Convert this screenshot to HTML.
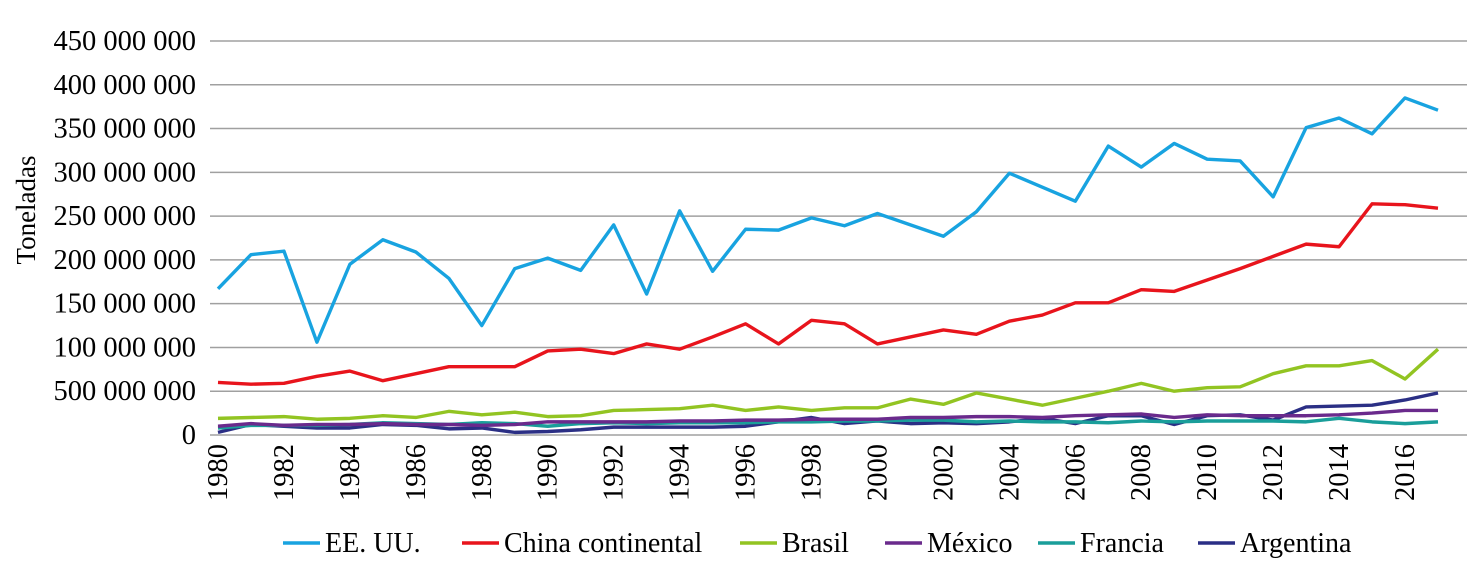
<!DOCTYPE html>
<html><head><meta charset="utf-8"><style>
body{margin:0;background:#fff}
svg text{font-family:"Liberation Serif",serif;fill:#000}
</style></head><body>
<svg id="c" width="1475" height="577"></svg>
<script>
const years=[];for(let y=1980;y<=2017;y++)years.push(y);
const yTickValues=[0,50,100,150,200,250,300,350,400,450];
const yTickLabels=["0","500 000 000","100 000 000","150 000 000","200 000 000","250 000 000","300 000 000","350 000 000","400 000 000","450 000 000"];
const usa=[167,206,210,106,195,223,209,179,125,190,202,188,240,161,256,187,235,234,248,239,253,240,227,255,299,283,267,330,306,333,315,313,272,351,362,344,385,371];
const china=[60,58,59,67,73,62,70,78,78,78,96,98,93,104,98,112,127,104,131,127,104,112,120,115,130,137,151,151,166,164,177,190,204,218,215,264,263,259];
const brasil=[19,20,21,18,19,22,20,27,23,26,21,22,28,29,30,34,28,32,28,31,31,41,35,48,41,34,42,50,59,50,54,55,70,79,79,85,64,98];
const mexico=[10,13,11,12,12,13,12,12,11,12,15,15,15,15,16,16,17,17,18,18,18,20,20,21,21,20,22,23,24,20,23,22,22,22,23,25,28,28];
const francia=[8,11,11,11,12,14,13,12,14,13,10,13,14,13,14,14,14,15,15,16,16,17,17,15,16,15,15,14,16,15,16,16,16,15,19,15,13,15];
const argentina=[3,12,10,8,8,12,11,7,8,3,4,6,9,9,9,9,10,15,20,13,16,13,14,13,15,19,13,22,22,12,22,23,17,32,33,34,40,48];
const seriesNames=["EE. UU.","China continental","Brasil","México","Francia","Argentina"];
const seriesData=[usa,china,brasil,mexico,francia,argentina];
const colors=["#18a3e0","#e8141c","#92c422","#6a2a8c","#1a9e9a","#2b2f85"];
const legendX=[283,462,740,885,1038,1198];
const NS="http://www.w3.org/2000/svg",svg=document.getElementById('c');
const X0=210,X1=1467,Y0=435,Y1=41;
const xs=i=>218+i*(1438-218)/37;
const ys=v=>Y0-v*(Y0-Y1)/450;
function mk(t,a){const e=document.createElementNS(NS,t);for(const k in a)e.setAttribute(k,a[k]);svg.appendChild(e);return e;}
yTickValues.forEach((v,i)=>{
 const g=mk('line',{x1:X0,x2:X1,y1:ys(v),y2:ys(v),stroke:'#a0a0a0','stroke-width':1.5});
 
 
 const t=mk('text',{x:196,y:ys(v)+9,'text-anchor':'end','font-size':28.5});t.textContent=yTickLabels[i];
 
 
});
years.forEach((y,i)=>{if(y%2)return;
 const t=mk('text',{transform:`translate(${xs(i)+9},444) rotate(-90)`,'text-anchor':'end','font-size':28.5});t.textContent=y;
 
 
});
const yt=mk('text',{transform:'translate(35,210) rotate(-90)','text-anchor':'middle','font-size':27});yt.textContent='Toneladas';


for(let s=seriesData.length-1;s>=0;s--){
 const p=mk('polyline',{points:seriesData[s].map((v,i)=>xs(i)+','+ys(v)).join(' '),fill:'none',stroke:colors[s],'stroke-width':3.4,'stroke-linejoin':'round'});
 
 
}
seriesNames.forEach((n,s)=>{
 const l=mk('line',{x1:legendX[s],x2:legendX[s]+37,y1:543,y2:543,stroke:colors[s],'stroke-width':3.4});
 
 
 const t=mk('text',{x:legendX[s]+42,y:552,'font-size':28});t.textContent=n;
 
 
});
</script>
</body></html>
